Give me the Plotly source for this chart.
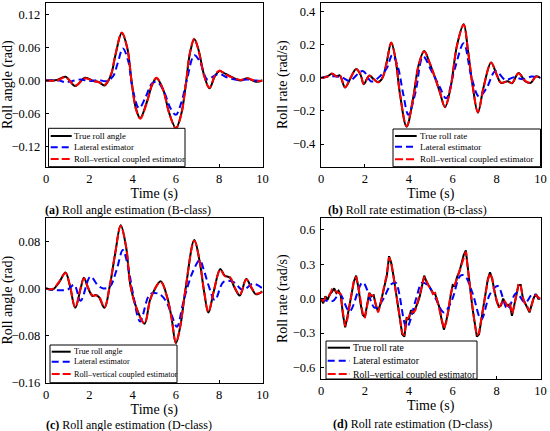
import plotly.graph_objects as go

W, H = 550, 431
SERIF = "Liberation Serif, Times New Roman, serif"

# ---- (a) roll angle, B-class ----
a_time = [0, 0.5, 0.9, 1.35, 1.8, 2.2, 2.45, 2.7, 3.0, 3.2, 3.5, 3.75, 3.95, 4.15, 4.35, 4.65,
          4.9, 5.1, 5.4, 5.7, 6.0, 6.25, 6.45, 6.65, 6.85, 7.05, 7.3, 7.55, 7.8, 8.0, 8.3,
          8.7, 9.0, 9.3, 9.7, 10]
a_true = [0, 0.001, 0.007, -0.010, 0.005, -0.001, -0.003, -0.009, 0.010, 0.045, 0.086, 0.060,
          0.000, -0.050, -0.068, -0.040, -0.008, 0.004, -0.015, -0.060, -0.086, -0.060, -0.010,
          0.050, 0.075, 0.055, 0.010, -0.014, 0.008, 0.017, 0.012, 0.004, 0.000, 0.004, -0.002, 0.000]
a_coupled = [0, 0.000, 0.006, -0.009, 0.004, -0.001, -0.003, -0.008, 0.011, 0.046, 0.087, 0.059,
             -0.001, -0.051, -0.069, -0.041, -0.007, 0.005, -0.016, -0.061, -0.087, -0.061, -0.009,
             0.051, 0.076, 0.054, 0.009, -0.013, 0.009, 0.018, 0.011, 0.004, 0.001, 0.004, -0.001, 0.000]
a_lat_time = [0, 0.6, 0.9, 1.2, 1.6, 2.0, 2.4, 2.8, 3.1, 3.3, 3.55, 3.8, 4.0, 4.3, 4.6, 4.9,
              5.15, 5.45, 5.75, 6.0, 6.25, 6.5, 6.85, 7.1, 7.45, 7.75, 8.0, 8.4, 8.9, 9.3, 9.7, 10]
a_lateral = [0, 0.000, -0.003, -0.001, 0.002, -0.001, 0.001, -0.001, 0.008, 0.030, 0.058, 0.035,
             -0.015, -0.050, -0.030, -0.005, -0.003, -0.020, -0.050, -0.062, -0.040, 0.000, 0.046,
             0.035, 0.002, 0.008, 0.012, 0.005, 0.001, 0.002, 0.000, 0.000]

# ---- (b) roll rate, B-class ----
b_time = [0, 0.3, 0.5, 0.7, 0.85, 1.1, 1.35, 1.6, 1.8, 1.95, 2.2, 2.4, 2.6, 2.8, 3.0, 3.2, 3.4,
          3.6, 3.9, 4.2, 4.45, 4.7, 4.95, 5.2, 5.4, 5.65, 5.9, 6.2, 6.5, 6.7, 6.9, 7.15, 7.4,
          7.75, 8.0, 8.2, 8.5, 8.7, 9.0, 9.3, 9.55, 9.8, 10]
b_true = [0.000, 0.010, 0.025, 0.010, 0.015, -0.058, 0.000, 0.054, 0.020, -0.038, 0.015, -0.008,
          -0.025, 0.000, 0.100, 0.215, 0.110, -0.100, -0.295, -0.120, 0.080, 0.163, 0.090, 0.000,
          -0.080, -0.177, -0.060, 0.200, 0.325, 0.160, -0.040, -0.210, -0.060, 0.094, 0.020,
          -0.030, -0.020, -0.032, 0.030, -0.020, -0.030, 0.010, 0.000]
b_coupled = [0.000, 0.008, 0.027, 0.008, 0.017, -0.056, 0.002, 0.052, 0.022, -0.036, 0.013, -0.006,
             -0.027, 0.002, 0.098, 0.213, 0.112, -0.098, -0.292, -0.122, 0.078, 0.160, 0.092, -0.002,
             -0.078, -0.175, -0.062, 0.198, 0.322, 0.162, -0.038, -0.207, -0.062, 0.092, 0.022,
             -0.028, -0.022, -0.030, 0.028, -0.018, -0.028, 0.008, 0.000]
b_lat_time = [0, 0.6, 1.0, 1.3, 1.9, 2.3, 2.7, 3.0, 3.25, 3.5, 3.75, 3.98, 4.3, 4.65, 5.05, 5.4,
              5.7, 6.1, 6.5, 6.85, 7.2, 7.55, 7.95, 8.4, 8.8, 9.2, 9.6, 10]
b_lateral = [0.000, 0.010, 0.000, -0.018, 0.042, -0.022, 0.012, 0.060, 0.139, 0.068, -0.100,
             -0.223, -0.090, 0.129, 0.038, -0.052, -0.123, 0.058, 0.209, 0.008, -0.113, -0.060,
             0.042, -0.012, 0.004, -0.008, 0.008, 0.000]

# ---- (c) roll angle, D-class ----
c_time = [0, 0.3, 0.6, 0.9, 1.1, 1.35, 1.6, 1.75, 1.95, 2.15, 2.3, 2.45, 2.7, 2.95, 3.2, 3.45,
          3.7, 3.9, 4.2, 4.55, 4.8, 5.0, 5.3, 5.6, 5.8, 6.0, 6.2, 6.45, 6.85, 7.1, 7.3, 7.5,
          7.75, 8.05, 8.25, 8.5, 8.7, 8.95, 9.25, 9.5, 9.7, 10]
c_true = [0.000, -0.002, 0.010, 0.027, 0.005, -0.033, 0.000, 0.018, 0.000, -0.013, -0.011, -0.015,
          -0.033, 0.005, 0.060, 0.107, 0.070, 0.005, -0.035, -0.060, -0.020, -0.003, 0.012, -0.015,
          -0.050, -0.093, -0.065, 0.000, 0.082, 0.045, -0.005, -0.041, -0.005, 0.033, 0.022, 0.018,
          0.002, -0.012, 0.016, 0.000, -0.010, -0.005]
c_coupled = [0.000, -0.001, 0.011, 0.026, 0.006, -0.032, 0.001, 0.017, 0.001, -0.012, -0.012,
             -0.014, -0.032, 0.006, 0.061, 0.106, 0.071, 0.006, -0.036, -0.059, -0.021, -0.002,
             0.011, -0.016, -0.051, -0.092, -0.064, 0.001, 0.081, 0.046, -0.004, -0.040, -0.004,
             0.032, 0.021, 0.019, 0.003, -0.011, 0.015, 0.001, -0.009, -0.006]
c_lat_time = [0, 0.5, 1.0, 1.3, 1.6, 2.05, 2.4, 2.65, 2.95, 3.25, 3.55, 3.8, 4.0, 4.35, 4.8, 5.2,
              5.55, 5.8, 6.05, 6.3, 6.5, 6.8, 7.1, 7.3, 7.5, 7.8, 8.2, 8.65, 9.1, 9.55, 10]
c_lateral = [0.000, -0.003, -0.002, 0.006, -0.021, 0.020, 0.005, 0.000, 0.003, 0.030, 0.065,
             0.035, -0.005, -0.056, -0.010, -0.009, -0.022, -0.045, -0.065, -0.030, -0.002, 0.030,
             0.048, 0.030, 0.006, -0.020, 0.011, 0.011, -0.003, 0.008, 0.000]

# ---- (d) roll rate, D-class ----
d_time = [0.0, 0.1, 0.2, 0.3, 0.4, 0.5, 0.6, 0.7, 0.8, 0.9, 1.0, 1.1, 1.2, 1.3, 1.4, 1.5, 1.6,
          1.7, 1.8, 1.9, 2.0, 2.1, 2.2, 2.3, 2.4, 2.5, 2.6, 2.7, 2.8, 2.9, 3.0, 3.1, 3.2, 3.3,
          3.4, 3.5, 3.6, 3.7, 3.8, 3.9, 4.0, 4.1, 4.2, 4.3, 4.4, 4.5, 4.6, 4.7, 4.8, 4.9, 5.0,
          5.1, 5.2, 5.3, 5.4, 5.5, 5.6, 5.7, 5.8, 5.9, 6.0, 6.1, 6.2, 6.3, 6.4, 6.5, 6.6, 6.7,
          6.8, 6.9, 7.0, 7.1, 7.2, 7.3, 7.4, 7.5, 7.6, 7.7, 7.8, 7.9, 8.0, 8.1, 8.2, 8.3, 8.4,
          8.5, 8.6, 8.7, 8.8, 8.9, 9.0, 9.1, 9.2, 9.3, 9.4, 9.5, 9.6, 9.7, 9.8, 9.9, 10.0]
d_true = [0.00, -0.04, 0.02, -0.01, 0.04, 0.06, 0.09, 0.05, 0.07, 0.03, -0.14, -0.25, -0.16,
          -0.06, 0.06, 0.15, 0.20, 0.10, -0.04, -0.14, -0.16, -0.04, 0.05, 0.02, 0.03, -0.06,
          -0.11, -0.05, 0.04, 0.14, 0.20, 0.37, 0.31, 0.20, 0.08, -0.03, -0.17, -0.31, -0.33,
          -0.17, -0.18, -0.10, -0.13, -0.09, -0.04, 0.02, 0.12, 0.20, 0.15, 0.12, 0.08, 0.05,
          0.04, -0.03, -0.08, -0.19, -0.27, -0.20, -0.11, 0.02, 0.12, 0.11, 0.19, 0.23, 0.30,
          0.38, 0.42, 0.23, 0.08, -0.08, -0.21, -0.33, -0.31, -0.17, -0.07, 0.05, 0.17, 0.23,
          0.17, 0.07, -0.02, -0.07, -0.06, 0.00, -0.04, -0.06, -0.05, -0.15, -0.06, 0.06, 0.12,
          0.12, 0.00, -0.04, -0.08, -0.12, -0.05, 0.01, 0.04, 0.00, 0.00]
d_coupled = [0.00, -0.02, 0.01, 0.01, 0.03, 0.08, 0.07, 0.06, 0.05, 0.04, -0.12, -0.24, -0.18,
             -0.05, 0.05, 0.16, 0.19, 0.11, -0.03, -0.13, -0.17, -0.05, 0.04, 0.03, 0.02, -0.05,
             -0.12, -0.06, 0.05, 0.13, 0.21, 0.36, 0.32, 0.19, 0.09, -0.04, -0.16, -0.30, -0.32,
             -0.18, -0.16, -0.11, -0.12, -0.10, -0.03, 0.03, 0.11, 0.19, 0.16, 0.11, 0.09, 0.04,
             0.05, -0.02, -0.09, -0.18, -0.26, -0.21, -0.10, 0.03, 0.11, 0.12, 0.18, 0.24, 0.29,
             0.37, 0.41, 0.24, 0.07, -0.07, -0.22, -0.32, -0.30, -0.18, -0.06, 0.06, 0.16, 0.22,
             0.18, 0.06, -0.01, -0.08, -0.05, -0.01, -0.03, -0.07, -0.04, -0.13, -0.07, 0.05, 0.13,
             0.11, 0.01, -0.05, -0.07, -0.11, -0.06, 0.02, 0.03, 0.01, 0.00]
d_lat_time = [0, 0.3, 0.55, 0.85, 1.3, 1.9, 2.45, 2.75, 3.2, 3.4, 3.9, 4.35, 4.6, 4.9, 5.2, 5.6,
              5.95, 6.35, 6.55, 6.9, 7.3, 7.7, 8.05, 8.5, 8.9, 9.3, 9.65, 10]
d_lateral = [0.00, -0.02, -0.02, 0.04, -0.11, 0.14, -0.08, -0.03, 0.125, 0.14, -0.25, 0.01, 0.14,
             0.11, 0.01, -0.12, -0.02, 0.20, 0.20, 0.05, -0.18, 0.04, 0.11, -0.09, 0.05, -0.035,
             0.04, -0.01]

x_ticks = [0, 2, 4, 6, 8, 10]
series_names = ["Lateral estimator", "Roll\u2013vertical coupled estimator"]


def px_x(x):
    return x / W


def px_y(y):
    return 1 - y / H


# panel layout in pixels: x0, x1, y_top, y_bottom
panels = [
    dict(key="", box=(46, 262.5, 2.7, 166.7), yrange=[-0.156, 0.141], dtick=0.06, fmt=".2f",
         ytitle="Roll angle (rad)", truename="True roll angle", shape="spline",
         data=(a_time, a_true, a_coupled, a_lat_time, a_lateral),
         caption=("(a)", " Roll angle estimation (B-class)", 128, 210),
         legend=dict(box=(48.5, 185, 128.3, 166.7), rows=(136, 147.3, 159),
                     line=(50.7, 71.7), text=73.3, size=8.8)),
    dict(key="2", box=(321, 540.5, 2.7, 166.7), yrange=[-0.537, 0.455], dtick=0.2, fmt=".1f",
         ytitle="Roll rate (rad/s)", truename="True roll rate", shape="spline",
         data=(b_time, b_true, b_coupled, b_lat_time, b_lateral),
         caption=("(b)", " Roll rate estimation (B-class)", 407, 210),
         legend=dict(box=(393, 540.5, 129, 166.7), rows=(136, 146.7, 159.3),
                     line=(395, 416.7), text=419, size=9)),
    dict(key="3", box=(46, 262.5, 217.7, 382.7), yrange=[-0.16, 0.12], dtick=0.08, fmt=".2f",
         ytitle="Roll angle (rad)", truename="True roll angle", shape="spline",
         data=(c_time, c_true, c_coupled, c_lat_time, c_lateral),
         caption=("(c)", " Roll angle estimation (D-class)", 128.5, 425),
         legend=dict(box=(50, 177, 345, 382.7), rows=(351.7, 361.7, 374),
                     line=(51.7, 70.7), text=72.7, size=8.2)),
    dict(key="4", box=(321, 540.5, 218.3, 379), yrange=[-0.7, 0.7], dtick=0.3, fmt=".1f",
         ytitle="Roll rate (rad/s)", truename="True roll rate", shape="linear",
         data=(d_time, d_true, d_coupled, d_lat_time, d_lateral),
         caption=("(d)", " Roll rate estimation (D-class)", 412, 424),
         legend=dict(box=(326, 477, 341, 379), rows=(347.7, 360.7, 374),
                     line=(327.7, 350), text=351.7, size=9.7)),
]

fig = go.Figure()
shapes = []
annotations = []

axis_common = dict(showline=True, linecolor="black", linewidth=1.3, mirror=True,
                   ticks="inside", ticklen=3, tickwidth=1, tickcolor="black",
                   showgrid=False, zeroline=False, automargin=False,
                   tickfont=dict(family=SERIF, size=12.5, color="black"))

colors = ["black", "rgb(0,0,255)", "rgb(255,0,0)"]
dashes = ["solid", "7px,4px", "8px,3px"]

for p in panels:
    k = p["key"]
    t, true_v, coupled_v, lat_t, lat_v = p["data"]
    xa, ya = "x" + k, "y" + k
    fig.add_trace(go.Scatter(x=t, y=true_v, mode="lines", name=p["truename"], xaxis=xa, yaxis=ya,
                             line=dict(color=colors[0], width=2, shape=p["shape"]), showlegend=False))
    fig.add_trace(go.Scatter(x=lat_t, y=lat_v, mode="lines", name=series_names[0], xaxis=xa, yaxis=ya,
                             line=dict(color=colors[1], width=2, dash=dashes[1], shape="spline"),
                             showlegend=False))
    fig.add_trace(go.Scatter(x=t, y=coupled_v, mode="lines", name=series_names[1], xaxis=xa, yaxis=ya,
                             line=dict(color=colors[2], width=2, dash=dashes[2], shape=p["shape"]),
                             showlegend=False))

    x0, x1, yt, yb = p["box"]
    fig.update_layout({
        "xaxis" + k: dict(axis_common, domain=[px_x(x0), px_x(x1)], range=[0, 10],
                          tickvals=x_ticks, anchor=ya, ticklabelstandoff=0,
                          title=dict(text="Time (s)", font=dict(family=SERIF, size=14, color="black"),
                                     standoff=1)),
        "yaxis" + k: dict(axis_common, domain=[px_y(yb), px_y(yt)], range=p["yrange"],
                          tick0=0, dtick=p["dtick"], tickformat=p["fmt"], anchor=xa,
                          ticklabelstandoff=2,
                          title=dict(text=p["ytitle"], font=dict(family=SERIF, size=14, color="black"),
                                     standoff=1)),
    })

    # caption below the panel
    lab, rest, cx, cy = p["caption"]
    annotations.append(dict(text="<b>" + lab + "</b>" + rest, x=px_x(cx), y=px_y(cy),
                            xref="paper", yref="paper", xanchor="center", yanchor="middle",
                            showarrow=False, font=dict(family=SERIF, size=12, color="black")))

    # boxed legend drawn inside the axes
    lg = p["legend"]
    bx0, bx1, by0, by1 = lg["box"]
    shapes.append(dict(type="rect", xref="paper", yref="paper", x0=px_x(bx0), x1=px_x(bx1),
                       y0=px_y(by1), y1=px_y(by0), fillcolor="white",
                       line=dict(color="black", width=1), layer="above"))
    labels = [p["truename"]] + series_names
    for i, row_y in enumerate(lg["rows"]):
        shapes.append(dict(type="line", xref="paper", yref="paper",
                           x0=px_x(lg["line"][0]), x1=px_x(lg["line"][1]),
                           y0=px_y(row_y), y1=px_y(row_y), layer="above",
                           line=dict(color=colors[i], width=2, dash=dashes[i])))
        annotations.append(dict(text=labels[i], x=px_x(lg["text"]), y=px_y(row_y),
                                xref="paper", yref="paper", xanchor="left", yanchor="middle",
                                showarrow=False, borderpad=0,
                                font=dict(family=SERIF, size=lg["size"], color="black")))

fig.update_layout(width=W, height=H, margin=dict(l=0, r=0, t=0, b=0),
                  paper_bgcolor="white", plot_bgcolor="white", showlegend=False,
                  shapes=shapes, annotations=annotations)

# the page body keeps a default 8px margin; drop it so the figure fills the window
fig.write_html("out.html", config={"displayModeBar": False},
               post_script="document.body.style.margin='0';")
